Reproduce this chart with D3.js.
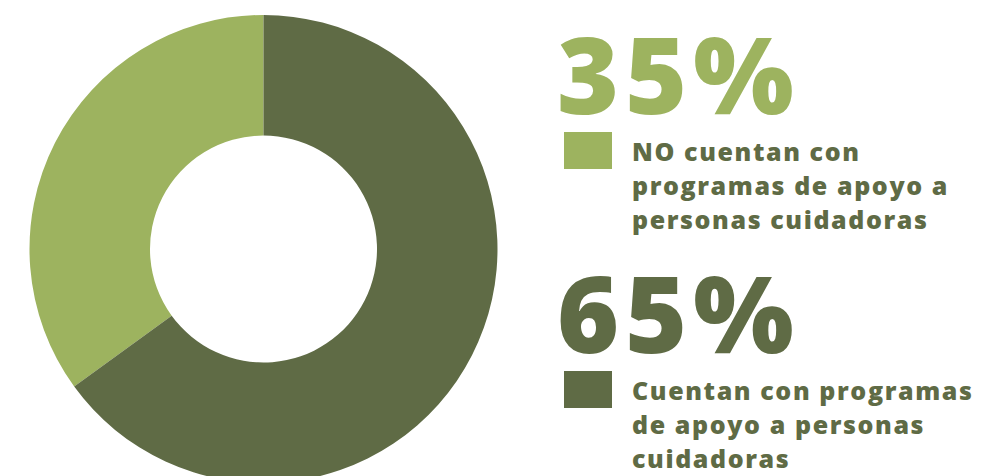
<!DOCTYPE html>
<html>
<head>
<meta charset="utf-8">
<script src="https://cdn.jsdelivr.net/npm/d3@7"></script>
<style>
  html, body { margin: 0; padding: 0; background: #ffffff; }
  svg { display: block; }
  text { font-family: "Open Sans", "Noto Sans", sans-serif; }
</style>
</head>
<body>
<svg id="chart" width="1002" height="476"></svg>
<script>
// Shares of respondents
const categories = ["no", "si"];
const values = [35, 65];
const colors = ["#9db35f", "#5f6b45"];
const valueLabels = ["35%", "65%"];
const descriptions = [
  ["NO cuentan con", "programas de apoyo a", "personas cuidadoras"],
  ["Cuentan con programas", "de apoyo a personas", "cuidadoras"]
];

const svg = d3.select("#chart");

// Donut
const cx = 263.5, cy = 249, rOuter = 234, rInner = 113.5;
const total = d3.sum(values);
const start = -2 * Math.PI * values[0] / total;
const pie = d3.pie().sort(null).value(d => d.value)
  .startAngle(start).endAngle(start + 2 * Math.PI);
const arc = d3.arc().innerRadius(rInner).outerRadius(rOuter);
const data = categories.map((c, i) => ({ key: c, value: values[i], color: colors[i] }));

svg.append("g")
  .attr("transform", `translate(${cx},${cy})`)
  .selectAll("path")
  .data(pie(data))
  .join("path")
  .attr("d", arc)
  .attr("fill", d => d.data.color);

// Legend blocks: big percentage, swatch and description
const blockTop = [0, 239];
const textColor = "#5f6b45";
const legend = svg.selectAll("g.block")
  .data(data)
  .join("g")
  .attr("class", "block")
  .attr("transform", (d, i) => `translate(0,${blockTop[i]})`);

legend.append("text")
  .attr("x", 557)
  .attr("y", 114)
  .attr("font-size", 106)
  .attr("font-weight", 800)
  .attr("letter-spacing", 6)
  .attr("fill", d => d.color)
  .text((d, i) => valueLabels[i]);

legend.append("rect")
  .attr("x", 564)
  .attr("y", 132)
  .attr("width", 48)
  .attr("height", 37)
  .attr("fill", d => d.color);

legend.append("text")
  .attr("font-size", 25)
  .attr("font-weight", 800)
  .attr("letter-spacing", 1.6)
  .attr("fill", textColor)
  .selectAll("tspan")
  .data((d, i) => descriptions[i])
  .join("tspan")
  .attr("x", 632)
  .attr("y", (d, j) => 161 + j * 34)
  .text(d => d);
</script>
</body>
</html>
